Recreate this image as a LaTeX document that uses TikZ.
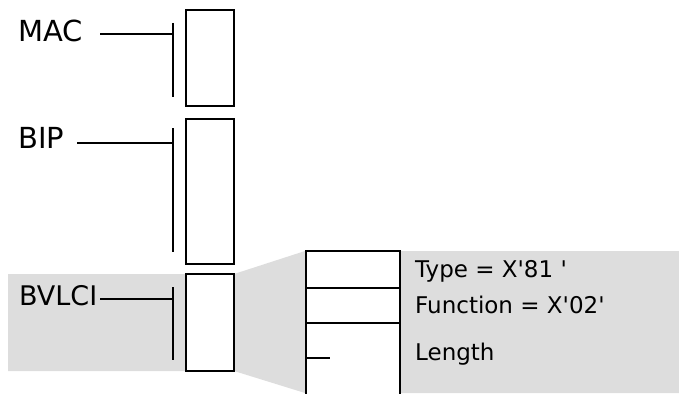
\documentclass[tikz,border=0pt]{standalone}
\usepackage{fontspec}
\setmainfont{DejaVu Sans}
\definecolor{greyfill}{RGB}{221,221,221}
\newcommand{\sq}{\textquotesingle}
\tikzset{
  lbl/.style={inner sep=0pt, anchor=base west, font=\fontsize{29}{32}\selectfont},
  fld/.style={inner sep=0pt, anchor=base west, font=\fontsize{23}{26}\selectfont},
  seg/.style={draw=black, line width=2pt, fill=white, inner sep=0pt, minimum width=48pt},
  wire/.style={line width=2pt},
}
\begin{document}
\begin{tikzpicture}[x=1pt,y=-1pt]
\useasboundingbox (0,0) rectangle (679,393);
% grey background
\fill[greyfill] (8,274) -- (234,274) -- (305,251) -- (679,251) -- (679,393) -- (305,393) -- (234,371) -- (8,371) -- cycle;
% left boxes
\node[seg, minimum height=96pt] (macbox) at (210,58.5) {};
\node[seg, minimum height=145pt] (bipbox) at (210,191.5) {};
\node[seg, minimum height=97pt] (bvbox) at (210,322) {};
% labels
\node[lbl] (mac) at (18,42) {MAC};
\node[lbl] (bip) at (18,148) {BIP};
\node[lbl, font=\fontsize{27}{30}\selectfont] (bv) at (19,305) {BVLCI};
% bars
\coordinate (mact) at (173,23); \coordinate (macb) at (173,97);
\coordinate (bipt) at (173,128); \coordinate (bipb) at (173,252);
\coordinate (bvt) at (173,287); \coordinate (bvb) at (173,360);
\draw[wire] (mact) -- (macb);
\draw[wire] (bipt) -- (bipb);
\draw[wire] (bvt) -- (bvb);
% leader lines
\coordinate (macs) at (100,34); \coordinate (bips) at (77,143); \coordinate (bvs) at (100,299);
\draw[wire] (macs) -- (macs -| mact);
\draw[wire] (bips) -- (bips -| bipt);
\draw[wire] (bvs) -- (bvs -| bvt);
% expanded structure
\coordinate (rtl) at (306,251); \coordinate (rtr) at (400,251);
\coordinate (rbl) at (306,395); \coordinate (rbr) at (400,395);
\fill[white] (rtl) rectangle (rbr);
\draw[wire] (rbl) -- (rtl) -- (rtr) -- (rbr);
\coordinate (d1l) at (306,288); \coordinate (d1r) at (400,288);
\coordinate (d2l) at (306,323); \coordinate (d2r) at (400,323);
\draw[wire] (d1l) -- (d1r);
\draw[wire] (d2l) -- (d2r);
\coordinate (tkl) at (306,358); \coordinate (tkr) at (330,358);
\draw[wire] (tkl) -- (tkr);
% field texts
\node[fld] (type) at (415,277) {Type = X\sq81 \sq};
\node[fld] (func) at (415,313) {Function = X\sq02\sq};
\node[fld] (len) at (415,360) {Length};
\end{tikzpicture}
\end{document}
